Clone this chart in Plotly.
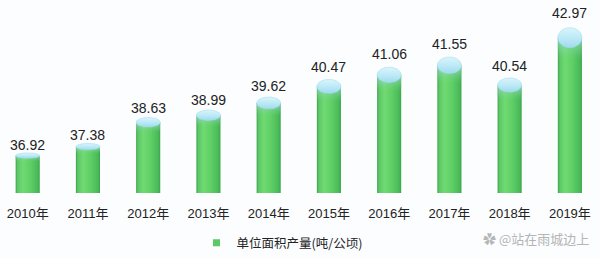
import numpy as np
import plotly.graph_objects as go

years = ["2010年", "2011年", "2012年", "2013年", "2014年", "2015年", "2016年", "2017年", "2018年", "2019年"]
values = [36.92, 37.38, 38.63, 38.99, 39.62, 40.47, 41.06, 41.55, 40.54, 42.97]
series_name = "单位面积产量(吨/公顷)"

Y_MIN, Y_MAX = 35.0, 44.9
PX_PER_UNIT = 193 / (Y_MAX - Y_MIN)
HALF_W = 0.2

body_scale = [[0.0, "#3f9f4c"], [0.08, "#5cc866"], [0.3, "#70da72"], [0.6, "#5fcf66"], [0.9, "#4abb59"], [1.0, "#3aa64b"]]
top_scale = [[0.0, "#d9f5fc"], [0.6, "#b8e7f5"], [1.0, "#9fd9ee"]]
glow_scale = [[0.0, "rgba(170,225,235,0.75)"], [1.0, "rgba(120,210,140,0)"]]

fig = go.Figure()
t = np.linspace(0, 2 * np.pi, 80)
for i, v in enumerate(values):
    hh_px = 1.2 * (v - Y_MIN) + 0.4
    hh = hh_px / PX_PER_UNIT
    # cylinder body
    fig.add_trace(go.Scatter(
        x=[i - HALF_W, i - HALF_W, i + HALF_W, i + HALF_W, i - HALF_W],
        y=[Y_MIN, v, v, Y_MIN, Y_MIN],
        fill="toself", mode="lines", line=dict(width=0),
        fillgradient=dict(type="horizontal", colorscale=body_scale),
        hoverinfo="skip", showlegend=False))
    # soft bluish glow below the top
    g = min(hh * 2.2, v - Y_MIN)
    fig.add_trace(go.Scatter(
        x=[i - HALF_W, i - HALF_W, i + HALF_W, i + HALF_W, i - HALF_W],
        y=[v - g, v, v, v - g, v - g],
        fill="toself", mode="lines", line=dict(width=0),
        fillgradient=dict(type="vertical", colorscale=[[0, glow_scale[1][1]], [1, glow_scale[0][1]]]),
        hoverinfo="skip", showlegend=False))
    # elliptical top
    fig.add_trace(go.Scatter(
        x=i + HALF_W * np.cos(t), y=v + hh * np.sin(t),
        fill="toself", mode="lines", line=dict(width=0.6, color="#a6dcee"),
        fillgradient=dict(type="vertical", colorscale=[[0, top_scale[2][1]], [0.4, top_scale[1][1]], [1, top_scale[0][1]]]),
        hoverinfo="skip", showlegend=False))
    fig.add_annotation(x=i, y=v, xref="x", yref="y", text=f"{v:.2f}",
                       showarrow=False, yanchor="middle",
                       yshift=6 + 2.4 * (v - Y_MIN),
                       font=dict(size=14, color="#222", family="Liberation Sans, Arial, sans-serif"))

# legend entry
fig.add_trace(go.Scatter(x=[None], y=[None], mode="markers", name=series_name,
                         marker=dict(symbol="square", size=7, color="#5cc866")))

fig.add_annotation(xref="paper", yref="paper", x=0.985, y=-0.235, xanchor="right", yanchor="middle",
                   text="✿ @站在雨城边上", showarrow=False,
                   font=dict(size=13, color="#b5b5b5", family="Noto Sans CJK SC"))

fig.update_layout(
    width=600, height=258,
    margin=dict(l=0, r=0, t=0, b=65),
    paper_bgcolor="#fbfdfe", plot_bgcolor="#fbfdfe",
    xaxis=dict(range=[-0.46, 9.5], tickmode="array", tickvals=list(range(len(years))), ticktext=years,
               showgrid=False, zeroline=False, showline=False, ticks="outside", ticklen=8,
               tickcolor="rgba(0,0,0,0)",
               tickfont=dict(size=13, color="#222", family="Liberation Sans, Noto Sans CJK SC")),
    yaxis=dict(range=[Y_MIN, Y_MAX], visible=False),
    showlegend=True,
    legend=dict(orientation="h", x=0.47, xanchor="center", y=-0.26, yanchor="middle",
                font=dict(size=12.5, color="#222", family="Noto Sans CJK SC"),
                bgcolor="rgba(0,0,0,0)", itemwidth=30),
)

fig.write_html("out.html")
